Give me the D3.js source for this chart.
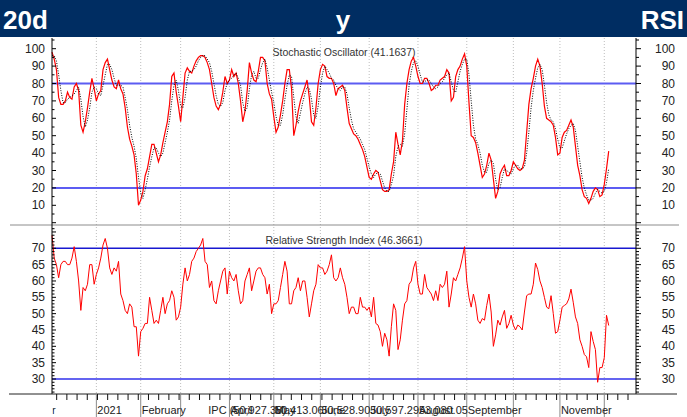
<!DOCTYPE html>
<html>
<head>
<meta charset="utf-8">
<title>20d y RSI</title>
<script src="https://d3js.org/d3.v7.min.js"></script>
<style>
  body { margin: 0; background: #fff; }
  text { font-family: "Liberation Sans", Arial, sans-serif; }
</style>
</head>
<body>
<svg id="chart" width="687" height="417"></svg>
<script>
// stochastic %K (red), one value per trading day
const stochK = [
  98,94,88,72,68,68,70,75,72,71,
  78,80,76,56,52,58,66,75,83,77,
  70,74,76,88,92,94,88,82,78,77,
  82,77,74,66,55,48,44,39,28,10,
  13,18,27,31,38,45,45,40,35,39,
  46,52,58,68,84,86,75,67,58,72,
  86,89,87,86,90,93,95,96,96,95,
  92,88,80,72,67,65,68,75,84,80,
  82,88,84,86,80,70,58,64,76,92,
  86,82,81,87,95,95,93,80,74,71,
  61,52,55,62,70,80,88,88,77,50,
  56,64,70,74,78,82,72,58,56,66,
  80,88,91,90,84,83,83,80,73,77,
  78,79,76,66,57,54,51,50,48,45,
  42,38,32,26,25,28,30,29,24,19,
  18,18,19,28,35,52,45,39,47,68,
  80,88,93,95,90,84,80,80,83,83,
  80,76,77,79,79,82,83,84,88,86,
  70,72,84,88,90,94,97,90,69,50,
  49,46,40,33,26,28,33,40,36,25,
  14,18,28,31,33,27,27,30,35,33,
  31,30,31,36,52,68,77,83,90,94,
  90,80,67,60,59,58,56,49,39,40,
  49,52,53,56,59,55,44,33,27,19,
  15,14,11,14,18,20,19,15,16,22,
  31,41.16
];

// stochastic %D (black dotted)
const stochD = [
  96,96,93,85,76,69,69,71,72,73,
  74,76,78,71,61,55,59,66,75,78,
  77,74,73,79,85,91,91,88,83,79,
  79,79,78,72,65,56,49,44,37,26,
  17,14,19,25,32,38,43,43,40,38,
  40,46,52,59,70,79,82,76,67,66,
  72,82,87,87,88,90,93,95,96,96,
  94,92,87,80,73,68,67,69,76,80,
  82,83,85,86,83,79,69,64,66,77,
  85,87,83,83,88,92,94,89,82,75,
  69,61,56,56,62,71,79,85,84,72,
  61,57,63,69,74,78,77,71,62,60,
  67,78,86,90,88,86,83,82,79,77,
  76,78,78,74,66,59,54,52,50,48,
  45,42,37,32,28,26,28,29,28,24,
  20,18,18,22,27,38,44,45,44,51,
  65,79,87,92,93,90,85,81,81,82,
  82,80,78,77,78,80,81,83,85,86,
  81,76,75,81,87,91,94,94,85,70,
  56,48,45,40,33,29,29,34,36,34,
  25,19,20,26,31,30,29,28,31,33,
  33,31,31,32,40,52,66,76,83,89,
  91,88,79,69,62,59,58,54,48,43,
  43,47,51,54,56,57,53,44,35,26,
  20,16,13,13,14,17,19,18,17,18,
  23,31
];

// relative strength index
const rsi = [
  74,67,65,61,65,66,66,65,65,67,
  70.5,66,60,51,58,57,59,65,65,59,
  62,64,67,71,73,70,64,62,64,63,
  66,56,54,51,50,53,52,46,46,37,
  44.5,45.5,47,47,55,51,47,48,47,51,
  55,50,53,54,57,55,48,49,52,59,
  64,60,62,66,67,69,70,71,73,66,
  65,58,60,54,53,57,60,63,64,56,
  63,61,60,62,57,53,54,60,62,64,
  57,60,63,64,64,62,61,56,59,50,
  53,53,54,58,62,66,63,53,53,57,
  58,61,57,60,60,55,49,53,57,59,
  65,64,64,62,63,65,68,61,60,61,
  64,61,59,55,50,52,52,50,50,55,
  52,52,51,52,49,55,47,46.5,44.5,40,
  44,42,37,46,53,51,39,42,48,53,
  54,59,60,64,66,59,56,56,62,58,
  57,56,54,57,54,59,58,59,63,52,
  56,61,60,62,64,67,70.5,60,55,52,
  56,53,48,47,48.5,48,52.5,56,50.5,40,
  43.5,48,46.5,49,51,45.5,47,49.5,46.5,45,
  46.5,46,45,50.5,55.5,56,56,59,65.5,63.5,
  60,58,55,52,51.5,55.5,50,44,44.5,48,
  52,52.5,53,54.5,57.5,53.5,49,47,42,40,
  37.5,36.8,33.5,44.5,41.5,39,29,33.5,33.5,36.5,
  49.5,46.37
];

// month starts (trading day index) and the x axis texts
const monthIdx = [20, 40, 58, 80, 100, 121, 143, 165, 187, 208, 229, 249];
const xLabelIdx = [-21.7, 20, 40, 80, 100, 121, 143, 165, 187, 229];
const xLabelText = ["November", "2021", "February", "April", "May", "June", "July", "August", "September", "November"];
const noteIdx = [70, 100, 121, 143, 165];
const noteText = ["IPC (50,927.38)", "50,413.06", "50,528.90", "50,597.29", "53,080.05"];

const stochLevels = [80, 20];
const rsiLevels = [70, 30];
const stochLabels = [10, 20, 30, 40, 50, 60, 70, 80, 90, 100];
const rsiLabels = [30, 35, 40, 45, 50, 55, 60, 65, 70];

const svg = d3.select("#chart");
const plotLeft = 52, plotRight = 636, plotTop = 38, split = 225, plotBottom = 394;

const x = d3.scaleLinear().domain([0, 263.3]).range([plotLeft, plotRight]);
const yK = d3.scaleLinear().domain([0, 100]).range([222.7, 48.7]);
const yR = d3.scaleLinear().domain([30, 70]).range([379, 248.3]);

// header band
svg.append("rect").attr("width", 687).attr("height", 37).attr("fill", "#002d62");
const head = svg.append("g").attr("fill", "#fff").attr("font-weight", "bold").attr("font-size", 26);
head.append("text").attr("x", 3).attr("y", 29).text("20d");
head.append("text").attr("x", 343).attr("y", 29).attr("text-anchor", "middle").text("y");
head.append("text").attr("x", 684).attr("y", 29).attr("text-anchor", "end").text("RSI");

// month grid
svg.append("g").selectAll("line").data(monthIdx).join("line")
  .attr("x1", d => x(d)).attr("x2", d => x(d))
  .attr("y1", plotTop).attr("y2", plotBottom)
  .attr("stroke", "#bdbdbd").attr("stroke-dasharray", "1,2");

// panel divider
svg.append("line").attr("x1", 10).attr("x2", 679).attr("y1", split).attr("y2", split)
  .attr("stroke", "#8c8c8c");

// level lines
svg.append("g").selectAll("line").data(stochLevels).join("line")
  .attr("x1", plotLeft).attr("x2", plotRight)
  .attr("y1", d => yK(d)).attr("y2", d => yK(d))
  .attr("stroke", "#5c5cf2").attr("stroke-width", 2);
svg.append("g").selectAll("line").data(rsiLevels).join("line")
  .attr("x1", plotLeft).attr("x2", plotRight)
  .attr("y1", d => yR(d)).attr("y2", d => yR(d))
  .attr("stroke", d => d == 70 ? "#1818d0" : "#6464f0")
  .attr("stroke-width", d => d == 70 ? 1.6 : 2.2);

// panel titles
svg.append("text").attr("x", 344).attr("y", 56).attr("text-anchor", "middle")
  .attr("font-size", 10.5).attr("fill", "#333").text("Stochastic Oscillator (41.1637)");
svg.append("text").attr("x", 344).attr("y", 244).attr("text-anchor", "middle")
  .attr("font-size", 10.5).attr("fill", "#333").text("Relative Strength Index (46.3661)");

// series
const lineK = d3.line().x((d, i) => x(i)).y(d => yK(d));
const lineR = d3.line().x((d, i) => x(i)).y(d => yR(d));

svg.append("path").datum(stochK).attr("d", lineK)
  .attr("fill", "none").attr("stroke", "#ff0000").attr("stroke-width", 1.2);
svg.append("path").datum(stochD).attr("d", lineK)
  .attr("fill", "none").attr("stroke", "#000").attr("stroke-width", 1)
  .attr("stroke-dasharray", "1,1.5");
svg.append("path").datum(rsi).attr("d", lineR)
  .attr("fill", "none").attr("stroke", "#ff0000").attr("stroke-width", 1);

// y axes (both sides)
const axes = svg.append("g").attr("stroke", "#000");
[plotLeft, plotRight].forEach(ax => {
  axes.append("line").attr("x1", ax).attr("x2", ax).attr("y1", plotTop).attr("y2", plotBottom);
  const len = ax == plotLeft ? [4, 2.5] : [5, 3];
  axes.append("g").selectAll("line").data(d3.range(0, 106, 5)).join("line")
    .attr("x1", ax).attr("x2", d => ax + (d % 10 == 0 ? len[0] : len[1]))
    .attr("y1", d => yK(d)).attr("y2", d => yK(d));
  axes.append("g").selectAll("line").data(d3.range(26, 77, 1)).join("line")
    .attr("x1", ax).attr("x2", d => ax + (d % 5 == 0 ? len[0] : len[1]))
    .attr("y1", d => yR(d)).attr("y2", d => yR(d));
});

const ylab = svg.append("g").attr("font-size", 12).attr("fill", "#222").attr("text-anchor", "end");
[45, 675].forEach(tx => {
  ylab.append("g").selectAll("text").data(stochLabels).join("text")
    .attr("x", tx).attr("y", d => yK(d) + 4).text(d => d);
  ylab.append("g").selectAll("text").data(rsiLabels).join("text")
    .attr("x", tx).attr("y", d => yR(d) + 4).text(d => d);
});

// x axis
svg.append("line").attr("x1", 9).attr("x2", 677).attr("y1", plotBottom).attr("y2", plotBottom)
  .attr("stroke", "#222");
svg.append("g").selectAll("line").data(d3.range(2.1, 263, 4.6)).join("line")
  .attr("x1", d => x(d)).attr("x2", d => x(d))
  .attr("y1", plotBottom).attr("y2", plotBottom + 6).attr("stroke", "#111");
svg.append("g").selectAll("line").data(monthIdx).join("line")
  .attr("x1", d => x(d)).attr("x2", d => x(d))
  .attr("y1", plotBottom).attr("y2", 417).attr("stroke", "#8a8a8a");

// labels left of the first day are cut at the axis, as in the original
svg.append("clipPath").attr("id", "xclip")
  .append("rect").attr("x", 52.5).attr("y", plotBottom).attr("width", 640).attr("height", 30);

const xlab = svg.append("g").attr("clip-path", "url(#xclip)")
  .attr("font-size", 11).attr("fill", "#222");
xlab.selectAll("text.month").data(xLabelIdx).join("text")
  .attr("class", "month")
  .attr("x", d => x(d) + 1).attr("y", 414)
  .text((d, i) => xLabelText[i]);
xlab.selectAll("text.note").data(noteIdx).join("text")
  .attr("class", "note")
  .attr("x", d => x(d) + 1).attr("y", 414)
  .text((d, i) => noteText[i]);
</script>
</body>
</html>
